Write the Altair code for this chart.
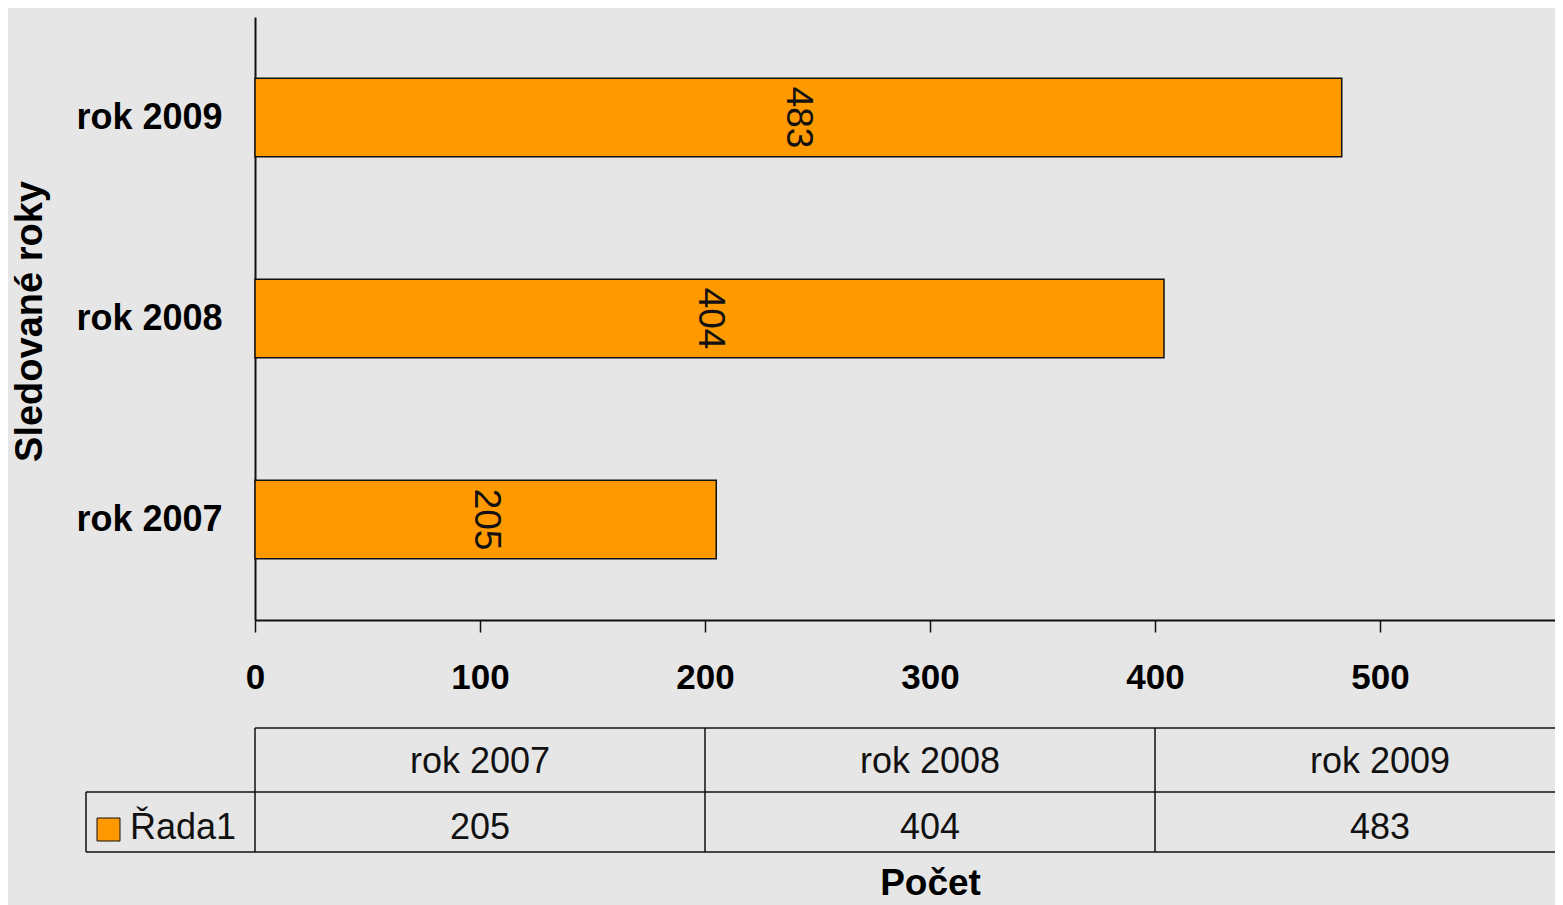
import altair as alt
import pandas as pd

# ---- data ----
categories = ["rok 2007", "rok 2008", "rok 2009"]
values = [205, 404, 483]
series_name = "Řada1"
axis_ticks = [0, 100, 200, 300, 400, 500]
x_title = "Počet"
y_title = "Sledované roky"

# ---- styling ----
ORANGE = "#FF9900"
BG = "#E6E6E6"
INK = "#111111"
FONT = "Liberation Sans"
W = 1300          # visible plot width (axis cut at the right like the reference)
H = 603
PX_PER_UNIT = 2.25
AXIS_MAX = 600
FULL = AXIS_MAX * PX_PER_UNIT   # width of the whole 0..600 axis (table spans it)
COL_UNITS = AXIS_MAX / 3

df = pd.DataFrame({"cat": categories, "val": values, "idx": list(range(len(categories)))})
order = categories[::-1]
one = alt.InlineData(values=[{"k": 0}])

xscale = alt.Scale(domain=[0, W / PX_PER_UNIT], nice=False, zero=True)
yscale = alt.Scale(paddingInner=0.61, paddingOuter=0.305)

bars = alt.Chart(df).mark_bar(color=ORANGE, stroke=INK, strokeWidth=1.5).encode(
    x=alt.X("val:Q", scale=xscale,
            axis=alt.Axis(values=axis_ticks, title=x_title, grid=False,
                          domainColor=INK, domainWidth=2,
                          tickColor=INK, tickSize=12, tickWidth=1.5,
                          labelFont=FONT, labelFontSize=35, labelFontWeight="bold",
                          labelColor="black", labelPadding=28, labelFlush=False,
                          titleFont=FONT, titleFontSize=37, titleFontWeight="bold",
                          titleColor="black", titleX=FULL / 2, titleY=274,
                          titleAlign="center", titleBaseline="alphabetic")),
    y=alt.Y("cat:N", sort=order, scale=yscale,
            axis=alt.Axis(title=y_title, ticks=False, grid=False,
                          domainColor=INK, domainWidth=2,
                          labelFont=FONT, labelFontSize=36, labelFontWeight="bold",
                          labelColor="black", labelPadding=33,
                          titleFont=FONT, titleFontSize=38, titleFontWeight="bold",
                          titleColor="black", titleAngle=270, titleX=-225, titleY=304,
                          titleAlign="center", titleBaseline="middle")),
)

bar_labels = alt.Chart(df).transform_calculate(mid="datum.val / 2").mark_text(
    angle=90, font=FONT, fontSize=37, color=INK, align="center", baseline="middle"
).encode(
    x=alt.X("mid:Q", scale=xscale, title=x_title),
    y=alt.Y("cat:N", sort=order, scale=yscale, title=y_title),
    text="val:Q",
)

# ---- data table below the axis (columns span 0-200, 200-400, 400-600) ----
tbl = alt.Chart(df).transform_calculate(
    xc=f"(datum.idx + 0.5) * {COL_UNITS}", xl=f"datum.idx * {COL_UNITS}"
)

header_text = tbl.mark_text(font=FONT, fontSize=36, color=INK, align="center",
                            baseline="alphabetic").encode(
    x=alt.X("xc:Q", scale=xscale, title=x_title), y=alt.value(756), text="cat:N")

value_text = tbl.mark_text(font=FONT, fontSize=36, color=INK, align="center",
                           baseline="alphabetic").encode(
    x=alt.X("xc:Q", scale=xscale, title=x_title), y=alt.value(822), text="val:Q")

col_lines = tbl.mark_rule(color=INK, strokeWidth=1.5).encode(
    x=alt.X("xl:Q", scale=xscale, title=x_title), y=alt.value(711), y2=alt.value(835))

def hline(y, x0):
    return alt.Chart(one).mark_rule(color=INK, strokeWidth=1.5).encode(
        x=alt.value(x0), x2=alt.value(W), y=alt.value(y))

legend_vline = alt.Chart(one).mark_rule(color=INK, strokeWidth=1.5).encode(
    x=alt.value(-169), y=alt.value(775), y2=alt.value(835))

legend_square = alt.Chart(one).mark_square(size=529, fill=ORANGE, stroke=INK,
                                           strokeWidth=1, opacity=1).encode(
    x=alt.value(-146.5), y=alt.value(812.5))

legend_text = alt.Chart(one).mark_text(font=FONT, fontSize=36, color=INK, align="left",
                                       baseline="alphabetic").encode(
    x=alt.value(-125), y=alt.value(822), text=alt.value(series_name))

chart = alt.layer(
    bars, bar_labels,
    hline(711, 0), hline(775, -169), hline(835, -169),
    col_lines, legend_vline, header_text, value_text, legend_square, legend_text,
).properties(
    width=W, height=H,
    autosize=alt.AutoSizeParams(type="none"),
    padding={"left": 247, "top": 9, "right": 0, "bottom": 285},
    background=BG,
).configure_view(strokeWidth=0)

chart.save("out.html", embed_options={"renderer": "svg", "actions": False})
